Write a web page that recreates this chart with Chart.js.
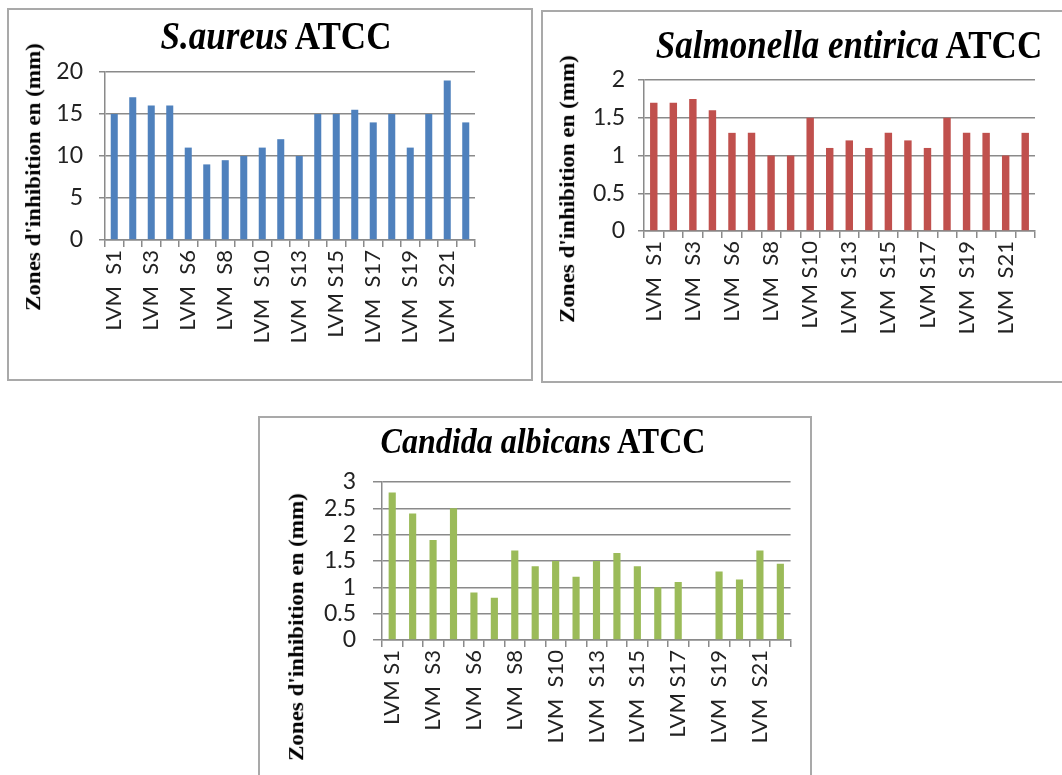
<!DOCTYPE html>
<html><head><meta charset="utf-8">
<script src="https://cdn.jsdelivr.net/npm/chart.js@4"></script>
<style>
html,body{margin:0;padding:0;background:#fff;width:1062px;height:775px;overflow:hidden;position:relative;}
.box{position:absolute;border:2px solid #a9a9a9;box-sizing:border-box;background:#fff;overflow:hidden;}
.box canvas{position:absolute;left:0;top:0;}
.ttl{position:absolute;font-family:"Liberation Serif","Times New Roman",serif;font-weight:bold;white-space:nowrap;transform:translate(-50%,-50%) scaleY(1.12);line-height:1;color:#000;}
.yt{position:absolute;font-family:"Liberation Serif","Times New Roman",serif;font-weight:bold;white-space:nowrap;transform:translate(-50%,-50%) rotate(-90deg) scaleY(0.95);line-height:1;color:#000;}
</style></head>
<body>
<div class="box" style="left:7px;top:8px;width:526px;height:373px;"><canvas id="c1"></canvas></div>
<div class="box" style="left:541px;top:10px;width:540px;height:373px;"><canvas id="c2"></canvas></div>
<div class="box" style="left:258px;top:416px;width:554px;height:380px;"><canvas id="c3"></canvas></div>

<div class="ttl" style="left:276px;top:36px;font-size:35px;"><i>S.aureus</i> ATCC</div>
<div class="ttl" style="left:849px;top:45px;font-size:35px;"><i>Salmonella entirica</i> ATCC</div>
<div class="ttl" style="left:543px;top:441px;font-size:32px;"><i>Candida albicans</i> ATCC</div>

<div class="yt" style="left:33px;top:177px;font-size:23px;">Zones d'inhibition en (mm)</div>
<div class="yt" style="left:567px;top:189px;font-size:23px;">Zones d'inhibition en (mm)</div>
<div class="yt" style="left:296px;top:627px;font-size:23px;">Zones d'inhibition en (mm)</div>

<script>
// ---- data ----
const categories = ["LVM S1","LVM S2","LVM S3","LVM S5","LVM S6","LVM S7","LVM S8","LVM S9","LVM S10","LVM S12",
                    "LVM S13","LVM S14","LVM S15","LVM S16","LVM S17","LVM S18","LVM S19","LVM S20","LVM S21","LVM S22"];
const aureusValues     = [15, 17, 16, 16, 11, 9, 9.5, 10, 11, 12, 10, 15, 15, 15.5, 14, 15, 11, 15, 19, 14];
const salmonellaValues = [1.7, 1.7, 1.75, 1.6, 1.3, 1.3, 1.0, 1.0, 1.5, 1.1, 1.2, 1.1, 1.3, 1.2, 1.1, 1.5, 1.3, 1.3, 1.0, 1.3];
const candidaValues    = [2.8, 2.4, 1.9, 2.5, 0.9, 0.8, 1.7, 1.4, 1.5, 1.2, 1.5, 1.65, 1.4, 1.0, 1.1, null, 1.3, 1.15, 1.7, 1.45];
const aureusTicks     = ["LVM  S1","LVM  S3","LVM  S6","LVM  S8","LVM  S10","LVM  S13","LVM S15","LVM  S17","LVM  S19","LVM  S21"];
const salmonellaTicks = ["LVM  S1","LVM  S3","LVM  S6","LVM  S8","LVM S10","LVM  S13","LVM  S15","LVM S17","LVM  S19","LVM  S21"];
const candidaTicks    = ["LVM S1","LVM  S3","LVM  S6","LVM  S8","LVM  S10","LVM  S13","LVM  S15","LVM S17","LVM  S19","LVM  S21"];
const aureusAxis     = {max: 20, step: 5};
const salmonellaAxis = {max: 2, step: 0.5};
const candidaAxis    = {max: 3, step: 0.5};

const GRID = '#8a8a8a';

function makeChart(id, w, h, values, color, tickText, axis, g) {
  const cv = document.getElementById(id);
  cv.width = w; cv.height = h;
  cv.style.width = w + 'px'; cv.style.height = h + 'px';
  return new Chart(cv, {
    type: 'bar',
    data: {
      labels: categories,
      datasets: [{ data: values, backgroundColor: color, borderWidth: 0,
                   categoryPercentage: 1, barPercentage: g.bar }]
    },
    options: {
      responsive: false, animation: false, devicePixelRatio: 1,
      layout: { padding: { left: 0, top: g.top, right: g.right, bottom: 0 } },
      plugins: { legend: { display: false }, tooltip: { enabled: false }, title: { display: false } },
      scales: {
        x: {
          grid: { drawOnChartArea: false, offset: true, tickLength: 7, color: GRID, lineWidth: 1.5 },
          border: { display: true, color: GRID, width: 1.5 },
          ticks: {
            autoSkip: false, maxRotation: 90, minRotation: 90, padding: 3,
            color: '#222', font: { family: 'Lato', size: 22 },
            callback: (v, i) => (i % 2 === 0 ? tickText[i / 2] : '')
          },
          afterFit: s => { s.height = g.xh; }
        },
        y: {
          min: 0, max: axis.max,
          grid: { color: GRID, lineWidth: 1.5, tickLength: g.tl },
          border: { display: true, color: GRID, width: 1.5 },
          ticks: { stepSize: axis.step, autoSkip: false, padding: g.ypad, color: '#222',
                   font: { family: 'Lato', size: g.yfs },
                   callback: v => String(Math.round(v * 100) / 100) },
          afterFit: s => { s.width = g.yw; }
        }
      }
    }
  });
}

makeChart('c1', 522, 369, aureusValues, '#4F81BD', aureusTicks, aureusAxis,
          { top: 62, right: 56, xh: 139, yw: 96, tl: 6, ypad: 16, yfs: 23, bar: 0.38 });
makeChart('c2', 536, 369, salmonellaValues, '#C0504D', salmonellaTicks, salmonellaAxis,
          { top: 68, right: 44, xh: 150, yw: 101, tl: 6, ypad: 13, yfs: 23, bar: 0.38 });
makeChart('c3', 550, 376, candidaValues, '#9BBB59', candidaTicks, candidaAxis,
          { top: 64, right: 10, xh: 154, yw: 122, tl: 9, ypad: 17, yfs: 23, bar: 0.35 });
</script>
</body></html>
